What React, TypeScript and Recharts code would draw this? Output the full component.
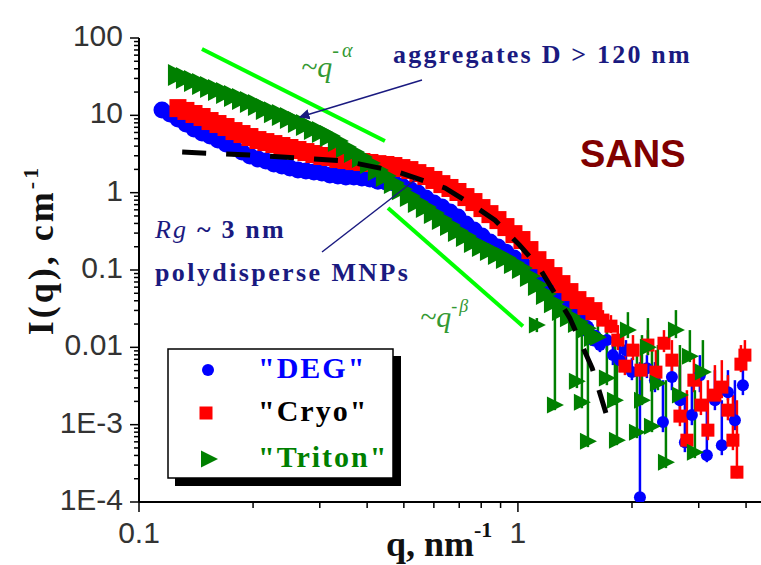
import React from "react";
import { ScatterChart, Scatter, XAxis, YAxis, ErrorBar } from "recharts";

// q grid (nm^-1) of the smooth part of the SANS curves
const qGrid = [
  0.115, 0.1207, 0.1267, 0.133, 0.1397, 0.1467, 0.154, 0.1616, 0.1697, 0.1781,
  0.187, 0.1962, 0.206, 0.2162, 0.227, 0.2383, 0.2502, 0.2627, 0.2758, 0.2895,
  0.3039, 0.319, 0.3349, 0.3516, 0.3691, 0.3875, 0.4068, 0.427, 0.4483, 0.4706,
  0.494, 0.5187, 0.5445, 0.5716, 0.6001, 0.63, 0.6617, 0.6946, 0.7292, 0.7655,
  0.8036, 0.8437, 0.8857, 0.9298, 0.9761, 1.0247, 1.0757, 1.1293, 1.1855, 1.2446,
  1.3066, 1.3716, 1.4399, 1.5116, 1.5869,
];

const degI = [
  11.7, 10.4, 8.96, 7.72, 6.65, 5.9, 5.4, 4.79, 4.25, 3.78,
  3.35, 2.98, 2.72, 2.56, 2.34, 2.21, 2.08, 1.96, 1.9, 1.85,
  1.79, 1.69, 1.64, 1.59, 1.59, 1.55, 1.5, 1.41, 1.37, 1.33,
  1.22, 1.11, 0.988, 0.851, 0.734, 0.651, 0.561, 0.483, 0.392, 0.328,
  0.275, 0.23, 0.198, 0.17, 0.143, 0.123, 0.103, 0.0859, 0.0697, 0.0566,
  0.0473, 0.0331, 0.0239, 0.0177, 0.0132,
];

const cryoI = [
  null, null, 12.4, 11.4, 10.4, 9.51, 8.44, 7.72, 7.06, 6.26,
  5.73, 5.24, 4.79, 4.51, 4.25, 4.01, 3.78, 3.56, 3.35, 3.16,
  2.98, 2.89, 2.72, 2.64, 2.56, 2.49, 2.42, 2.34, 2.28, 2.21,
  2.08, 1.96, 1.79, 1.64, 1.46, 1.29, 1.15, 1.02, 0.877, 0.756,
  0.632, 0.528, 0.442, 0.359, 0.291, 0.244, 0.181, 0.134, 0.106, 0.0834,
  0.0657, 0.0518, 0.0408, 0.0341, 0.0294,
];

const tritonI = [
  null, null, 33.2, 30.4, 27.8, 25.4, 23.2, 21.2, 19.4, 17.8,
  16.3, 14.9, 13.6, 12.1, 11.0, 10.1, 9.23, 8.19, 7.49, 6.65,
  6.08, 5.4, 4.65, 3.89, 3.35, 2.89, 2.42, 1.96, 1.64, 1.33,
  1.11, 0.904, 0.756, 0.651, 0.545, 0.455, 0.381, 0.319, 0.275, 0.23,
  0.204, 0.181, 0.161, 0.143, 0.123, 0.106, 0.0834, 0.0638, 0.0488, 0.0384,
  0.0303, 0.0253, 0.0212, 0.0177, 0.014,
];

// noisy high-q tail, with error bar bounds
const degTailQ = [1.646, 1.717, 1.781, 1.858, 1.928, 1.999, 2.099, 2.19, 2.299, 2.414, 2.549, 2.676, 2.758, 2.878, 3.021, 3.152, 3.31, 3.452, 3.583, 3.738, 3.924];
const degTailI = [0.0107, 0.0124, 0.00793, 0.00683, 0.0092, 0.00478, 0.000115, 0.00538, 0.00376, 0.00108, 0.00412, 0.00207, 0.000594, 0.00133, 0.00437, 0.000403, 0.00207, 0.000543, 0.00263, 0.00114, 0.00324];
const degTailHi = [0.0144, 0.0167, 0.0113, 0.0107, 0.0124, 0.00725, 0.00644, 0.00793, 0.00644, 0.00376, 0.00683, 0.00589, 0.00241, 0.00324, 0.00793, 0.00154, 0.00507, 0.00207, 0.00507, 0.00376, 0.00683];
const degTailLo = [0.00867, 0.0092, 0.00589, 0.00478, 0.00683, 0.00376, 0.000115, 0.004, 0.00263, 0.0008, 0.00279, 0.00154, 0.000441, 0.000985, 0.00263, 0.000327, 0.00154, 0.000403, 0.00207, 0.000849, 0.00241];

const cryoTailQ = [1.676, 1.76, 1.835, 1.916, 2.012, 2.112, 2.203, 2.313, 2.429, 2.549, 2.676, 2.792, 2.913, 3.04, 3.172, 3.31, 3.452, 3.583, 3.693, 3.784, 3.877, 3.972];
const cryoTailI = [0.0225, 0.0188, 0.0124, 0.00571, 0.0092, 0.00507, 0.0107, 0.00478, 0.0113, 0.00683, 0.00129, 0.00063, 0.00376, 0.00179, 0.000849, 0.00241, 0.00306, 0.00154, 0.00063, 0.000243, 0.00606, 0.00793];
const cryoTailHi = [0.0303, 0.0261, 0.0194, 0.0107, 0.0144, 0.0107, 0.0167, 0.0092, 0.0167, 0.0124, 0.00683, 0.00279, 0.00793, 0.00507, 0.00376, 0.00589, 0.00683, 0.00437, 0.00241, 0.00207, 0.0107, 0.0124];
const cryoTailLo = [0.0188, 0.01527, 0.0092, 0.00437, 0.00683, 0.00376, 0.00793, 0.00324, 0.00867, 0.00478, 0.000956, 0.000497, 0.00263, 0.00133, 0.00063, 0.00179, 0.0022, 0.00114, 0.000468, 0.000203, 0.00478, 0.00589];

const tritonTailQ = [1.122, 1.252, 1.431, 1.475, 1.53, 1.626, 1.717, 1.803, 1.825, 1.951, 2.061, 2.125, 2.203, 2.258, 2.341, 2.458, 2.612, 2.676, 2.843, 2.931, 3.077];
const tritonTailI = [0.0194, 0.00179, 0.00365, 0.00195, 0.000612, 0.01355, 0.004, 0.00207, 0.00063, 0.0167, 0.0008, 0.00207, 0.01006, 0.000956, 0.00344, 0.000327, 0.0167, 0.00241, 0.00769, 0.000441, 0.00478];
const tritonTailHi = [0.0239, 0.0352, 0.0408, 0.0285, 0.0212, 0.0225, 0.0167, 0.0124, 0.00683, 0.0285, 0.0092, 0.0144, 0.0239, 0.0092, 0.0107, 0.00376, 0.0303, 0.0107, 0.0167, 0.00279, 0.0124];
const tritonTailLo = [0.01573, 0.00154, 0.00297, 0.00163, 0.000512, 0.0107, 0.00324, 0.00179, 0.000543, 0.01315, 0.000669, 0.00179, 0.00793, 0.0008, 0.00279, 0.000274, 0.01315, 0.00195, 0.00644, 0.000369, 0.00376];

// dashed model fit
const fitQ = [0.13, 0.196, 0.266, 0.35, 0.474, 0.642, 0.747, 0.87, 1.01, 1.14, 1.37, 1.57, 1.73];
const fitI = [3.35, 3.06, 2.8, 2.56, 1.9, 1.15, 0.73, 0.44, 0.21, 0.106, 0.024, 0.0054, 0.00114];

// power-law guides ~q^-α and ~q^-β
const alphaQ = [0.1466, 0.4457];
const alphaI = [72.1, 4.65];
const betaQ = [0.454, 1.031];
const betaI = [0.632, 0.0188];

const xDecades = [0.1, 1];
const xLabels = ["0.1", "1"];
const yDecades = [0.0001, 0.001, 0.01, 0.1, 1, 10, 100];
const yLabels = ["1E-4", "1E-3", "0.01", "0.1", "1", "10", "100"];
const steps = [1, 2, 3, 4, 5, 6, 7, 8, 9];

const xTicks = xDecades.flatMap((d) => steps.map((s) => d * s)).filter((v) => v <= 4.38);
const yTicks = yDecades.slice(0, 6).flatMap((d) => steps.map((s) => d * s)).concat([100]);

const BLUE = "#0000ff";
const RED = "#ff0000";
const GREEN = "#008000";
const NAVY = "#1a1a80";
const SERIF = "'Liberation Serif', 'Times New Roman', serif";
const SANS = "'Liberation Sans', Arial, sans-serif";

const rows = (qs: number[], is: (number | null)[]) =>
  qs.map((q, i) => ({ q, I: is[i] })).filter((r) => r.I != null);

const tail = (qs: number[], is: number[], lo: number[], hi: number[]) =>
  qs.map((q, i) => ({ q, I: is[i], err: [is[i] - lo[i], hi[i] - is[i]] }));

const findMajor = (list: number[], v: number) => list.findIndex((m) => Math.abs(m - v) / m < 1e-6);

const YTick = (props: any) => {
  const { x, y, payload } = props;
  const idx = findMajor(yDecades, payload.value);
  return (
    <g>
      <line x1={x - (idx >= 0 ? 9 : 5)} x2={x} y1={y} y2={y} stroke="#000" strokeWidth={1.5} />
      {idx >= 0 && (
        <text x={x - 16} y={y} dy={8} textAnchor="end" fontSize={30} fontFamily={SANS} fill="#333">
          {yLabels[idx]}
        </text>
      )}
    </g>
  );
};

const XTick = (props: any) => {
  const { x, y, payload } = props;
  const idx = findMajor(xDecades, payload.value);
  return (
    <g>
      <line x1={x} x2={x} y1={y} y2={y + (idx >= 0 ? 10 : 6)} stroke="#000" strokeWidth={1.5} />
      {idx >= 0 && (
        <text x={x} y={y + 41} textAnchor="middle" fontSize={30} fontFamily={SANS} fill="#333">
          {xLabels[idx]}
        </text>
      )}
    </g>
  );
};

// markers: the dense low-q band uses fat markers, the noisy tail smaller ones
const Dot = (p: any) => <circle cx={p.cx} cy={p.cy} r={6} fill={BLUE} />;
const Square = (p: any) => <rect x={p.cx - 6.5} y={p.cy - 6.5} width={13} height={13} fill={RED} />;
const Tri = (p: any) => (
  <path d={`M${p.cx - 8},${p.cy - 8.5}L${p.cx + 9},${p.cy}L${p.cx - 8},${p.cy + 8.5}Z`} fill={GREEN} />
);
const BandDot = (p: any) => <circle cx={p.cx} cy={p.cy} r={8.5} fill={BLUE} />;
const BandSquare = (p: any) => <rect x={p.cx - 8.5} y={p.cy - 9} width={17} height={18} fill={RED} />;
const BandTri = (p: any) => (
  <path d={`M${p.cx - 10},${p.cy - 11}L${p.cx + 11},${p.cy}L${p.cx - 10},${p.cy + 11}Z`} fill={GREEN} />
);
const Nothing = () => <g />;

export default function App() {
  const deg = rows(qGrid, degI);
  const cryo = rows(qGrid, cryoI);
  const triton = rows(qGrid, tritonI);
  const degTail = tail(degTailQ, degTailI, degTailLo, degTailHi);
  const cryoTail = tail(cryoTailQ, cryoTailI, cryoTailLo, cryoTailHi);
  const tritonTail = tail(tritonTailQ, tritonTailI, tritonTailLo, tritonTailHi);
  const fit = rows(fitQ, fitI);
  const alpha = rows(alphaQ, alphaI);
  const beta = rows(betaQ, betaI);

  return (
    <div style={{ position: "absolute", left: 0, top: 0, width: 761, height: 565, background: "#fff" }}>
      <ScatterChart width={761} height={565} margin={{ top: 38, right: 0, bottom: 0, left: 0 }}>
        <XAxis
          type="number"
          dataKey="q"
          scale="log"
          domain={[0.1, 4.38]}
          allowDataOverflow
          ticks={xTicks}
          interval={0}
          height={63}
          tickSize={0}
          tickMargin={0}
          tickLine={false}
          tick={XTick}
          axisLine={{ stroke: "#000", strokeWidth: 2 }}
        />
        <YAxis
          type="number"
          dataKey="I"
          scale="log"
          domain={[0.0001, 100]}
          allowDataOverflow
          ticks={yTicks}
          interval={0}
          width={139}
          tickSize={0}
          tickMargin={0}
          tickLine={false}
          tick={YTick}
          axisLine={{ stroke: "#000", strokeWidth: 2 }}
        />
        <Scatter data={deg} shape={BandDot} isAnimationActive={false} />
        <Scatter data={degTail} shape={Dot} isAnimationActive={false}>
          <ErrorBar dataKey="err" direction="y" width={0} stroke={BLUE} strokeWidth={2.5} />
        </Scatter>
        <Scatter data={cryo} shape={BandSquare} isAnimationActive={false} />
        <Scatter data={cryoTail} shape={Square} isAnimationActive={false}>
          <ErrorBar dataKey="err" direction="y" width={0} stroke={RED} strokeWidth={2.5} />
        </Scatter>
        <Scatter data={triton} shape={BandTri} isAnimationActive={false} />
        <Scatter data={tritonTail} shape={Tri} isAnimationActive={false}>
          <ErrorBar dataKey="err" direction="y" width={0} stroke={GREEN} strokeWidth={2.5} />
        </Scatter>
        <Scatter
          data={fit}
          shape={Nothing}
          line={{ stroke: "#000", strokeWidth: 5, strokeDasharray: "24 20" }}
          isAnimationActive={false}
        />
        <Scatter data={alpha} shape={Nothing} line={{ stroke: "#00ff00", strokeWidth: 4 }} isAnimationActive={false} />
        <Scatter data={beta} shape={Nothing} line={{ stroke: "#00ff00", strokeWidth: 4 }} isAnimationActive={false} />
      </ScatterChart>

      <svg width={761} height={565} style={{ position: "absolute", left: 0, top: 0, pointerEvents: "none" }}>
        <defs>
          <marker id="head" viewBox="0 0 10 10" refX="9" refY="5" markerWidth="7" markerHeight="7" orient="auto">
            <path d="M0,0L10,5L0,10Z" fill={NAVY} />
          </marker>
        </defs>

        {/* axis titles */}
        <text transform="translate(53,250) rotate(-90)" textAnchor="middle" fontFamily={SERIF} fontWeight="bold" fontSize={36} letterSpacing={3} fill="#111">
          I(q), cm<tspan dy={-15} fontSize={22}>-1</tspan>
        </text>
        <text x={386} y={556} fontFamily={SERIF} fontWeight="bold" fontSize={36} fill="#111">
          q, nm<tspan dy={-19} fontSize={22}>-1</tspan>
        </text>

        {/* annotations */}
        <text x={393} y={63} fontFamily={SERIF} fontWeight="bold" fontSize={26} letterSpacing={2.2} fill={NAVY}>
          aggregates D &gt; 120 nm
        </text>
        <line x1={422} y1={80} x2={300} y2={117} stroke={NAVY} strokeWidth={1.5} markerEnd="url(#head)" />
        <text x={301} y={77} fontFamily={SERIF} fontStyle="italic" fontSize={30} fill="#339933">
          ~q<tspan dy={-20} fontSize={20} letterSpacing={3}>-α</tspan>
        </text>
        <text x={420} y={327} fontFamily={SERIF} fontStyle="italic" fontSize={30} fill="#339933">
          ~q<tspan dy={-15} fontSize={18} letterSpacing={2}>-β</tspan>
        </text>
        <text x={580} y={167} fontFamily={SANS} fontWeight="bold" fontSize={38} fill="#800000">
          SANS
        </text>
        <text x={155} y={238} fontFamily={SERIF} fontSize={26} letterSpacing={2.2} fill={NAVY}>
          <tspan fontStyle="italic">Rg</tspan>
          <tspan fontWeight="bold"> ~ 3 nm</tspan>
        </text>
        <text x={155} y={281} fontFamily={SERIF} fontWeight="bold" fontSize={26} letterSpacing={2.4} fill={NAVY}>
          polydisperse MNPs
        </text>
        <line x1={322} y1={252} x2={415} y2={180} stroke={NAVY} strokeWidth={1.5} />

        {/* legend */}
        <rect x={175} y={356} width={226} height={130} fill="#000" />
        <rect x={168} y={349} width={225} height={129} fill="#fff" stroke="#000" strokeWidth={1.5} />
        <Dot cx={208} cy={370} />
        <Square cx={206} cy={413} />
        <Tri cx={209} cy={459} />
        <text x={258} y={378} fontFamily={SERIF} fontWeight="bold" fontSize={30} letterSpacing={2} fill={BLUE}>"DEG"</text>
        <text x={258} y={421} fontFamily={SERIF} fontWeight="bold" fontSize={30} letterSpacing={2} fill="#000">"Cryo"</text>
        <text x={258} y={467} fontFamily={SERIF} fontWeight="bold" fontSize={30} letterSpacing={2} fill={GREEN}>"Triton"</text>
      </svg>
    </div>
  );
}
